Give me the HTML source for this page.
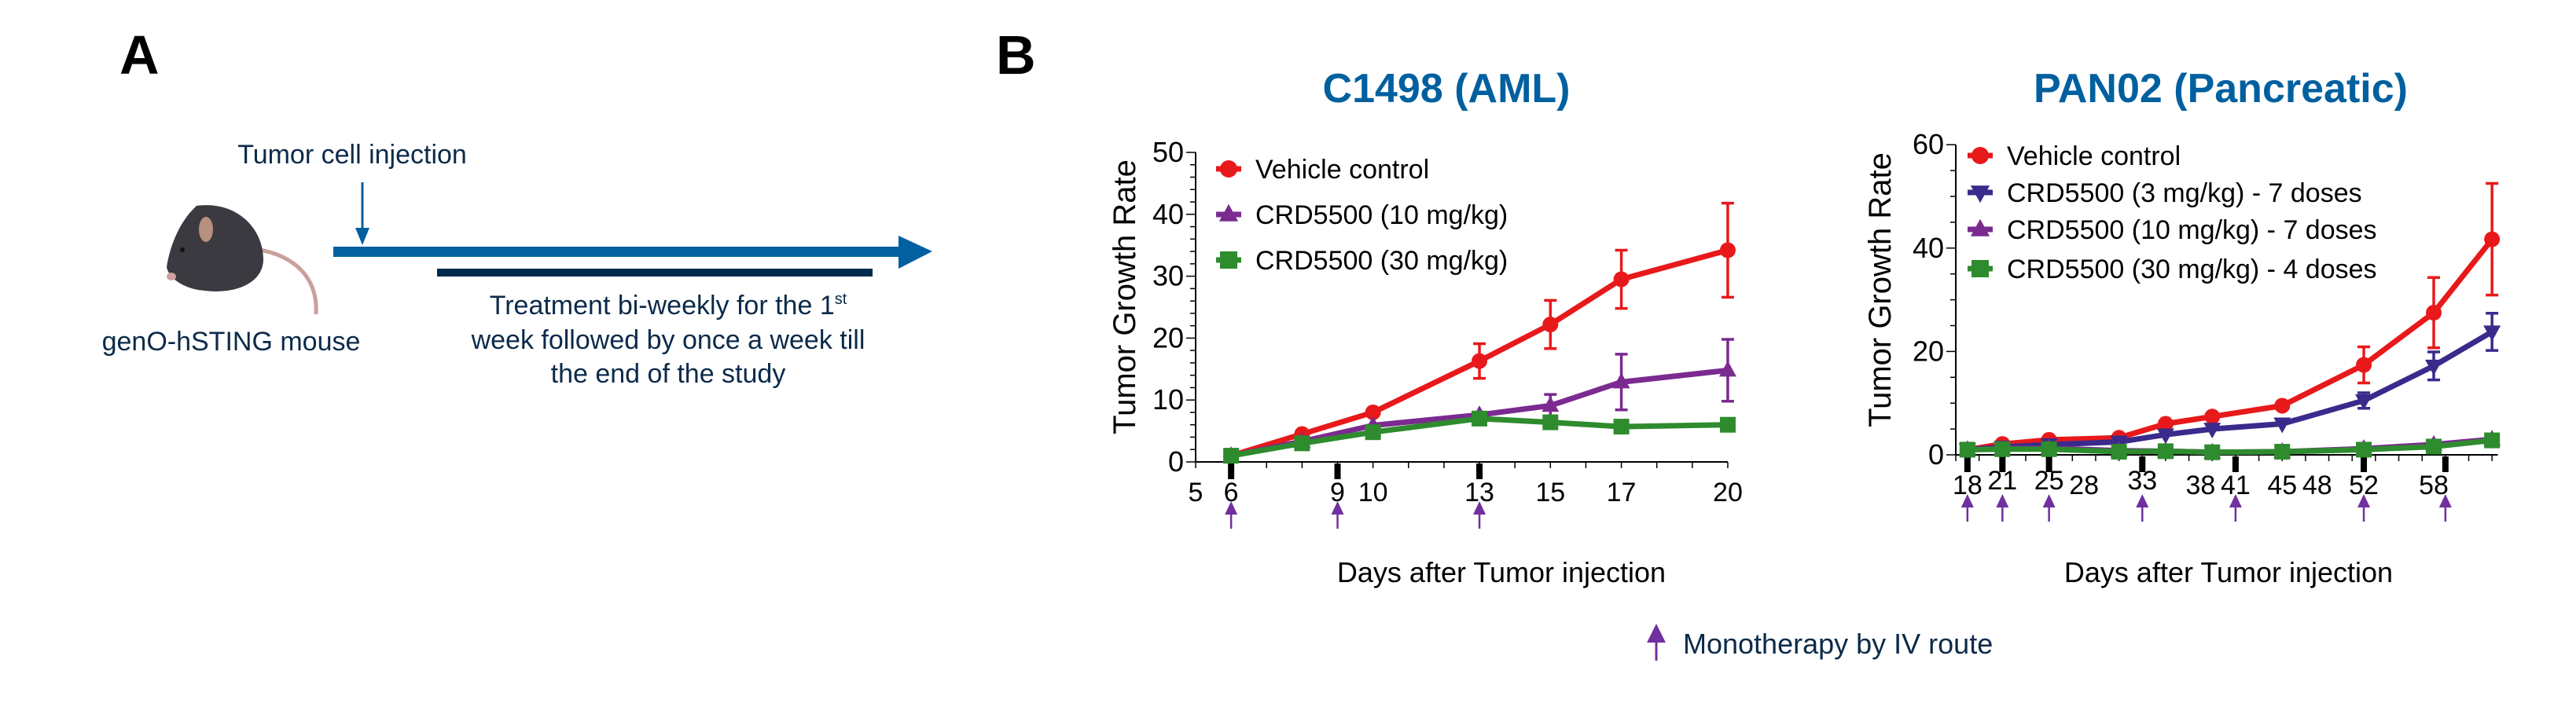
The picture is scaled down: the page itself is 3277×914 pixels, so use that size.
<!DOCTYPE html>
<html><head><meta charset="utf-8"><style>
html,body{margin:0;padding:0;background:#fff;}
svg{display:block;font-family:"Liberation Sans",sans-serif;}
</style></head><body>
<svg id="fig" width="3277" height="914" viewBox="0 0 3277 914" xmlns="http://www.w3.org/2000/svg">
  <g>
    <text x="152" y="94" font-size="70" font-weight="bold" fill="#000">A</text>
    <text x="448" y="208" font-size="34" fill="#0b2a4a" text-anchor="middle">Tumor cell injection</text>
    <line x1="461" y1="232" x2="461" y2="296" stroke="#0060a0" stroke-width="3"/>
    <polygon points="452,290 470,290 461,312" fill="#0060a0"/>
    <g>
      <path d="M330,318 C370,325 405,350 402,400" fill="none" stroke="#c9a09a" stroke-width="5"/>
      <path d="M250,262 C300,255 335,290 335,330 C335,360 300,375 260,370 C235,368 215,355 212,340 C215,320 225,285 250,262 Z" fill="#3a3a40"/>
      <ellipse cx="262" cy="292" rx="9" ry="16" fill="#b89080"/>
      <circle cx="232" cy="318" r="3" fill="#111"/>
      <ellipse cx="218" cy="352" rx="6" ry="5" fill="#d0a0a0"/>
    </g>
    <text x="294" y="446" font-size="34" fill="#0b2a4a" text-anchor="middle">genO-hSTING mouse</text>
    <rect x="424" y="314" width="724" height="13" fill="#0060a0"/>
    <polygon points="1143,300 1186,320 1143,342" fill="#0060a0"/>
    <rect x="556" y="342" width="554" height="10" fill="#002a4d"/>
    <text x="850" y="400" font-size="34" fill="#0b2a4a" text-anchor="middle">Treatment bi-weekly for the 1<tspan font-size="20" dy="-13">st</tspan></text>
    <text x="850" y="444" font-size="34" fill="#0b2a4a" text-anchor="middle">week followed by once a week till</text>
    <text x="850" y="487" font-size="34" fill="#0b2a4a" text-anchor="middle">the end of the study</text>
  </g>
  <text x="1267" y="94" font-size="70" font-weight="bold" fill="#000">B</text>
  <text x="1840" y="130" font-size="52" font-weight="bold" fill="#00609f" text-anchor="middle">C1498 (AML)</text>
  <text x="2825" y="130" font-size="52" font-weight="bold" fill="#00609f" text-anchor="middle">PAN02 (Pancreatic)</text>
  <g id="c1"></g>
  <g id="c2"></g>
  <g>
    <polygon points="2095,818 2107,794 2119,818" fill="#7030a0"/>
    <line x1="2107" y1="816" x2="2107" y2="841" stroke="#7030a0" stroke-width="3"/>
    <text x="2141" y="832" font-size="36" fill="#0b2a4a">Monotherapy by IV route</text>
  </g>
</svg>
<script>
const NS="http://www.w3.org/2000/svg";
// ---- C1498 data ----
const c1Days=[6,8,10,13,15,17,20];
const c1Vehicle=[1,4.5,8,16.3,22.2,29.5,34.2];
const c1VehicleErr=[0,0,0,2.8,3.9,4.7,7.6];
const c1Dose10=[1,3.3,5.9,7.6,9.1,12.9,14.8];
const c1Dose10Err=[0,0,0,0,1.8,4.5,5];
const c1Dose30=[1,3,4.8,7,6.4,5.7,6];
const c1Dose30Err=[0,0,0,0.6,0.6,0.6,0.6];
const c1XTicks=[5,6,9,10,13,15,17,20];
const c1YTicks=[0,10,20,30,40,50];
const c1DoseDays=[6,9,13];
// ---- PAN02 data ----
const c2Days=[18,21,25,31,35,39,45,52,58,63];
const c2Vehicle=[1,2.1,2.9,3.3,6,7.4,9.5,17.4,27.5,41.7];
const c2VehicleErr=[0,0,0,0,0,0,0,3.5,6.8,10.8];
const c2Dose3=[1,1.5,2,2.5,3.9,5,6,10.5,17.2,23.8];
const c2Dose3Err=[0,0,0,0,0,0,0,1.5,2.7,3.6];
const c2Dose10=[1,1.2,1.3,0.8,0.7,0.5,0.6,1.2,2,3];
const c2Dose30=[1,1.1,1.1,0.6,0.7,0.5,0.6,1,1.6,2.8];
const c2XTicks=[18,21,25,28,33,38,41,45,48,52,58];
const c2RaisedTicks=[21,25,33];
const c2YTicks=[0,20,40,60];
const c2DoseDays=[18,21,25,33,41,52,59];

function el(p,tag,attrs,txt){const e=document.createElementNS(NS,tag);for(const k in attrs)e.setAttribute(k,attrs[k]);if(txt!==undefined)e.textContent=txt;p.appendChild(e);return e;}
function marker(g,shape,x,y,c,s){
  if(shape==='circle')return el(g,'circle',{cx:x,cy:y,r:s,fill:c});
  if(shape==='square')return el(g,'rect',{x:x-s,y:y-s,width:2*s,height:2*s,fill:c});
  if(shape==='up')return el(g,'polygon',{points:`${x-s*1.1},${y+s*0.8} ${x},${y-s*1.2} ${x+s*1.1},${y+s*0.8}`,fill:c});
  return el(g,'polygon',{points:`${x-s*1.1},${y-s*0.8} ${x},${y+s*1.2} ${x+s*1.1},${y-s*0.8}`,fill:c});
}
function chart(g,o){
  const X=d=>o.x0+(d-o.d0)*o.dx, Y=v=>o.y0-v*o.dy;
  el(g,'line',{x1:o.x0,y1:Y(o.ymax),x2:o.x0,y2:o.y0,stroke:'#000','stroke-width':2});
  el(g,'line',{x1:o.x0,y1:o.y0,x2:X(o.dmax),y2:o.y0,stroke:'#000','stroke-width':2});
  for(let v=0;v<=o.ymax;v+=o.yminor){el(g,'line',{x1:o.x0-(v%o.ymajor===0?12:7),y1:Y(v),x2:o.x0,y2:Y(v),stroke:'#000','stroke-width':1.5});}
  o.yTicks.forEach(v=>{const t=el(g,'text',{x:o.x0-15,y:Y(v)+12,'font-size':36,'text-anchor':'end',fill:'#000'},v);});
  for(let d=o.d0;d<=o.dmax;d+=o.xminor){el(g,'line',{x1:X(d),y1:o.y0,x2:X(d),y2:o.y0+8,stroke:'#000','stroke-width':1.5});}
  o.xTicks.forEach(d=>{const up=o.raised&&o.raised.includes(d);const t=el(g,'text',{x:X(d),y:o.y0+(up?44:50),'font-size':34,'text-anchor':'middle',fill:'#000'},d);});
  o.doses.forEach(d=>{const b=el(g,'rect',{x:X(d)-4,y:o.y0+2,width:8,height:20,fill:'#000'});
    const a=el(g,'g',{});
    const ay=o.y0+50+(o.arrowDrop||0);
    el(a,'polygon',{points:`${X(d)-8},${ay+17} ${X(d)},${ay} ${X(d)+8},${ay+17}`,fill:'#7030a0'});
    el(a,'line',{x1:X(d),y1:ay+15,x2:X(d),y2:ay+35,stroke:'#7030a0','stroke-width':2.5});});
  o.series.forEach(s=>{const sg=el(g,'g',{});
    el(sg,'polyline',{points:o.days.map((d,i)=>X(d)+','+Y(s.v[i])).join(' '),fill:'none',stroke:s.c,'stroke-width':7,'stroke-linejoin':'round'});
    if(s.e)o.days.forEach((d,i)=>{if(!s.e[i])return;const x=X(d),a=Y(s.v[i]+s.e[i]),b=Y(s.v[i]-s.e[i]);
      el(sg,'line',{x1:x,y1:a,x2:x,y2:b,stroke:s.c,'stroke-width':3.5});
      el(sg,'line',{x1:x-8,y1:a,x2:x+8,y2:a,stroke:s.c,'stroke-width':3.5});
      el(sg,'line',{x1:x-8,y1:b,x2:x+8,y2:b,stroke:s.c,'stroke-width':3.5});});
    o.days.forEach((d,i)=>{const m=marker(sg,s.m,X(d),Y(s.v[i]),s.c,10);});
  });
  o.series.forEach((s,i)=>{const lg=el(g,'g',{});
    const y=o.legY[i];el(lg,'line',{x1:o.legX-16,y1:y,x2:o.legX+16,y2:y,stroke:s.c,'stroke-width':7});
    marker(lg,s.m,o.legX,y,s.c,11);
    el(lg,'text',{x:o.legX+34,y:y+12,'font-size':34,fill:'#000'},s.label);});
  const yt=el(g,'text',{x:o.ytX,y:o.ytY,'font-size':40,fill:'#000','text-anchor':'middle',transform:`rotate(-90 ${o.ytX} ${o.ytY})`},'Tumor Growth Rate');
  
  const xt=el(g,'text',{x:o.xtX,y:741,'font-size':36,fill:'#000','text-anchor':'middle'},'Days after Tumor injection');
  
}
chart(document.getElementById('c1'),{x0:1521,d0:5,dmax:20,dx:45.13,y0:588,dy:7.88,ymax:50,ymajor:10,yminor:2,xminor:1,
  yTicks:c1YTicks,xTicks:c1XTicks,doses:c1DoseDays,days:c1Days,ytX:1444,ytY:378,xtX:1910,legX:1563,legY:[215,273,331],
  series:[
    {name:'series-vehicle',label:'Vehicle control',v:c1Vehicle,e:c1VehicleErr,c:'#e8191a',m:'circle'},
    {name:'series-10mg',label:'CRD5500 (10 mg/kg)',v:c1Dose10,e:c1Dose10Err,c:'#7b2a90',m:'up'},
    {name:'series-30mg',label:'CRD5500 (30 mg/kg)',v:c1Dose30,e:c1Dose30Err,c:'#2e8b2e',m:'square'}
  ]});
chart(document.getElementById('c2'),{x0:2488,d0:17,dmax:63.5,dx:14.83,y0:579,dy:6.58,ymax:60,ymajor:20,yminor:5,xminor:2,
  yTicks:c2YTicks,xTicks:c2XTicks,raised:c2RaisedTicks,doses:c2DoseDays,days:c2Days,ytX:2405,ytY:369,xtX:2835,legX:2519,legY:[198,245,292,342],
  series:[
    {name:'series-vehicle',label:'Vehicle control',v:c2Vehicle,e:c2VehicleErr,c:'#e8191a',m:'circle'},
    {name:'series-3mg',label:'CRD5500 (3 mg/kg) - 7 doses',v:c2Dose3,e:c2Dose3Err,c:'#3b2a8c',m:'down'},
    {name:'series-10mg',label:'CRD5500 (10 mg/kg) - 7 doses',v:c2Dose10,c:'#7b2a90',m:'up'},
    {name:'series-30mg',label:'CRD5500 (30 mg/kg) - 4 doses',v:c2Dose30,c:'#2e8b2e',m:'square'}
  ]});
</script>
</body></html>
